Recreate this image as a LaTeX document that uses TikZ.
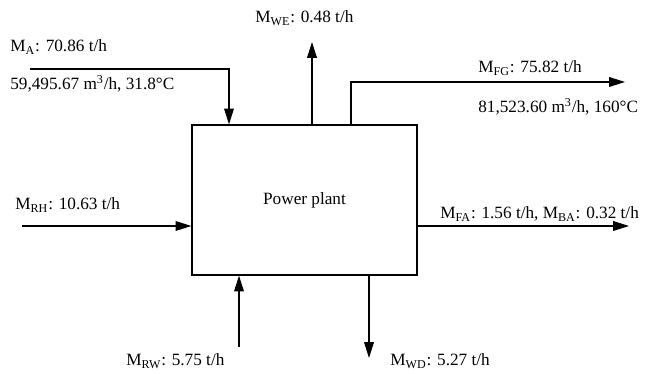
\documentclass[tikz,border=0pt]{standalone}
\usepackage{fontspec}
\setmainfont{Liberation Serif}
\usetikzlibrary{arrows.meta}

\begin{document}
\begin{tikzpicture}[
    x=0.02cm, y=-0.02cm,
    >={Triangle[length=9pt,width=5.5pt]},
    font=\fontsize{9.8pt}{12pt}\selectfont,
    plantbox/.style={draw, line width=0.7pt,
                     minimum width=4.5cm, minimum height=3cm,
                     inner sep=0pt},
    flow/.style={->, line width=0.7pt},
    lbl/.style={anchor=west, inner sep=0pt}
  ]
  \useasboundingbox (0,0) rectangle (655,374);

  \node (plant) [plantbox] at (304.5,200) {Power plant};

  % free ends of the streams
  \coordinate (aStart)  at (30,69);
  \coordinate (aTurn)   at (229,69);
  \coordinate (weEnd)   at (312,42);
  \coordinate (fgTurn)  at (351,82);
  \coordinate (fgEnd)   at (625,82);
  \coordinate (rhStart) at (22,226);
  \coordinate (faEnd)   at (629,226);
  \coordinate (rwStart) at (239,347);
  \coordinate (wdEnd)   at (369,358);

  \node (lblA)   [lbl] at (10,47)   {M\textsubscript{A}: 70.86 t/h};
  \node (lblAv)  [lbl] at (10,84)   {59,495.67 m\textsuperscript{3}/h, 31.8°C};
  \node (lblWE)  [lbl] at (255,18)  {M\textsubscript{WE}: 0.48 t/h};
  \node (lblFG)  [lbl] at (478,68)  {M\textsubscript{FG}: 75.82 t/h};
  \node (lblFGv) [lbl] at (478,107) {81,523.60 m\textsuperscript{3}/h, 160°C};
  \node (lblRH)  [lbl] at (15,205)  {M\textsubscript{RH}: 10.63 t/h};
  \node (lblFA)  [lbl] at (440,214) {M\textsubscript{FA}: 1.56 t/h, M\textsubscript{BA}: 0.32 t/h};
  \node (lblRW)  [lbl] at (126,361) {M\textsubscript{RW}: 5.75 t/h};
  \node (lblWD)  [lbl] at (390,361) {M\textsubscript{WD}: 5.27 t/h};

  \draw[flow] (aStart) -- (aTurn) -- (aTurn |- plant.north);
  \draw[flow] (weEnd |- plant.north) -- (weEnd);
  \draw[flow] (fgTurn |- plant.north) -- (fgTurn) -- (fgEnd);
  \draw[flow] (rhStart) -- (rhStart -| plant.west);
  \draw[flow] (faEnd -| plant.east) -- (faEnd);
  \draw[flow] (rwStart) -- (rwStart |- plant.south);
  \draw[flow] (wdEnd |- plant.south) -- (wdEnd);
\end{tikzpicture}
\end{document}
